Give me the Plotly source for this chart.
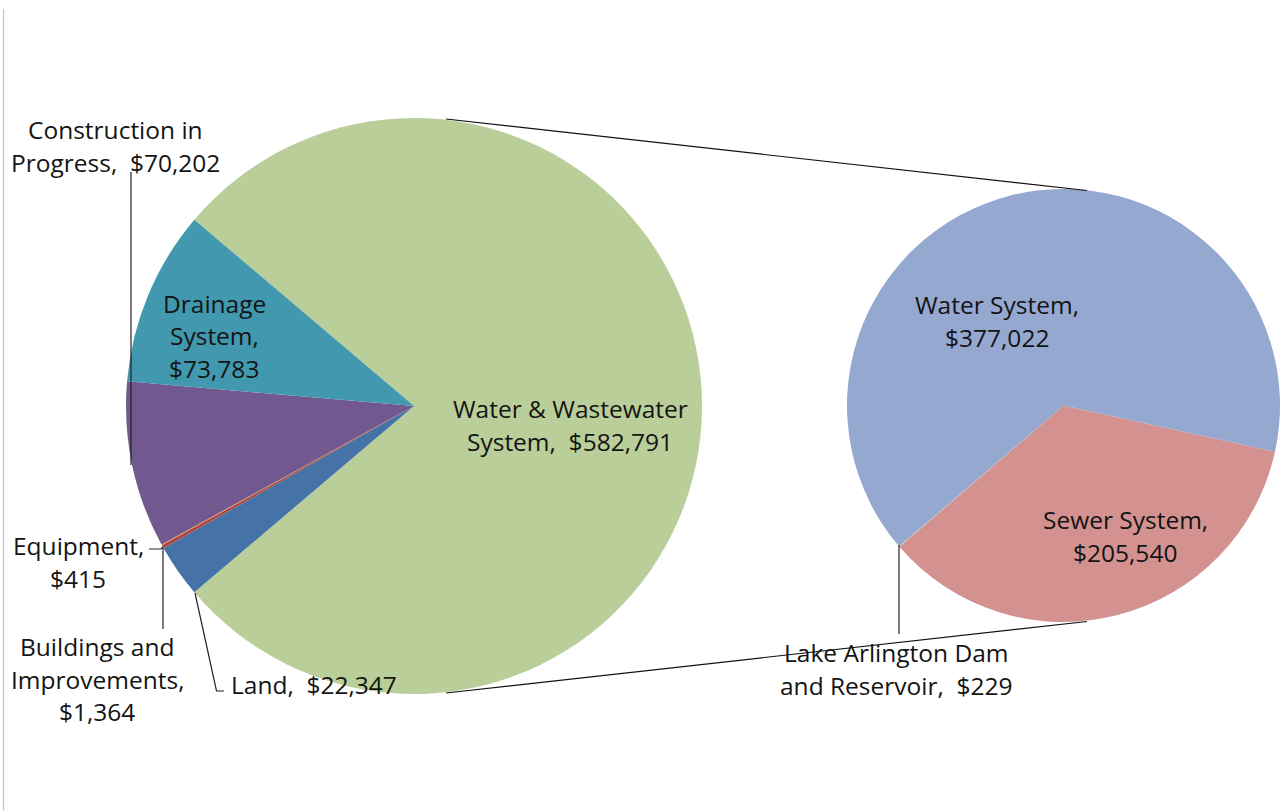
import plotly.graph_objects as go

W, H = 1282, 810

# ---------------- data ----------------
main_names = ["Water & Wastewater System", "Land", "Buildings and Improvements",
              "Equipment", "Construction in Progress", "Drainage System"]
main_values = [582791, 22347, 1364, 415, 70202, 73783]
main_colors = ["#B9CE98", "#4572A7", "#AA4643", "#DB843D", "#71588F", "#4198AF"]

sub_names = ["Sewer System", "Lake Arlington Dam and Reservoir", "Water System"]
sub_values = [205540, 229, 377022]
sub_colors = ["#D39190", "#B9CE98", "#95A8D0"]

# label line-break layouts (text built from names/values)
NB = "\u00a0\u00a0"
main_label_fmt = ["Water & Wastewater<br>System," + NB + "{v}", "Land," + NB + "{v}",
                  "Buildings and<br>Improvements,<br>{v}", "Equipment,<br>{v}",
                  "Construction in<br>Progress," + NB + "{v}", "Drainage<br>System,<br>{v}"]
sub_label_fmt = ["Sewer System,<br>{v}", "Lake Arlington Dam<br>and Reservoir," + NB + "{v}",
                 "Water System,<br>{v}"]

# ---------------- layout helpers (pixel -> paper) ----------------
def px(x):
    return x / W

def py(y):
    return 1 - y / H

FONT = dict(family="Open Sans, sans-serif", size=24.5, color="#141414")
LINE_H = 32.5

main_label_pos = [(570, 425), (314, 684), (97, 679), (78, 562), (115, 146), (214, 336)]
sub_label_pos = [(1125, 536), (896, 669), (997, 321)]

total_main = sum(main_values)
main_rotation = 90 - main_values[0] / total_main * 180.0

fig = go.Figure()
fig.add_trace(go.Pie(
    labels=main_names, values=main_values, sort=False, direction="clockwise",
    rotation=main_rotation, marker=dict(colors=main_colors, line=dict(width=0)),
    textinfo="none", hoverinfo="label+value", showlegend=False,
    domain=dict(x=[px(126), px(702)], y=[py(694), py(118)]),
))
fig.add_trace(go.Pie(
    labels=sub_names, values=sub_values, sort=False, direction="clockwise",
    rotation=102.3, marker=dict(colors=sub_colors, line=dict(width=0)),
    textinfo="none", hoverinfo="label+value", showlegend=False,
    domain=dict(x=[px(847), px(1280)], y=[py(622), py(189)]),
))

annotations = []
def add_label(fmt, v, pos):
    lines = fmt.format(v="${:,}".format(v)).split("<br>")
    n = len(lines)
    cx, cy = pos
    for i, ln in enumerate(lines):
        yy = cy + (i - (n - 1) / 2) * LINE_H
        annotations.append(dict(text=ln, x=px(cx), y=py(yy),
                                xref="paper", yref="paper", showarrow=False,
                                xanchor="center", yanchor="middle", align="center",
                                font=FONT))

for fmt, v, pos in zip(main_label_fmt, main_values, main_label_pos):
    add_label(fmt, v, pos)
for fmt, v, pos in zip(sub_label_fmt, sub_values, sub_label_pos):
    add_label(fmt, v, pos)

LEAD = dict(color="#222222", width=1.2)
def seg(pts, line=LEAD):
    path = "M " + " L ".join("{:.5f},{:.5f}".format(px(a), py(b)) for a, b in pts)
    return dict(type="path", path=path, xref="paper", yref="paper", line=line)

shapes = [
    # left border
    seg([(3.5, 9), (3.5, 810)], dict(color="#BFBFBF", width=1.2)),
    # connectors between pies
    seg([(446, 119), (1087, 190.5)], dict(color="#111111", width=1.2)),
    seg([(446, 693), (1087, 621.5)], dict(color="#111111", width=1.2)),
    # leader lines
    seg([(131, 172), (131, 465)]),
    seg([(149, 549), (161, 549), (163, 547)]),
    seg([(163, 548), (163, 629)]),
    seg([(195, 593), (216.5, 691), (224, 691)]),
    seg([(899, 545), (899, 634)]),
]

fig.update_layout(
    width=W, height=H, margin=dict(l=0, r=0, t=0, b=0),
    paper_bgcolor="white", plot_bgcolor="white",
    annotations=annotations, shapes=shapes,
)

fig.write_html("out.html", config={"displayModeBar": False},
               post_script="document.body.style.margin='0px';document.body.style.overflow='hidden';")
